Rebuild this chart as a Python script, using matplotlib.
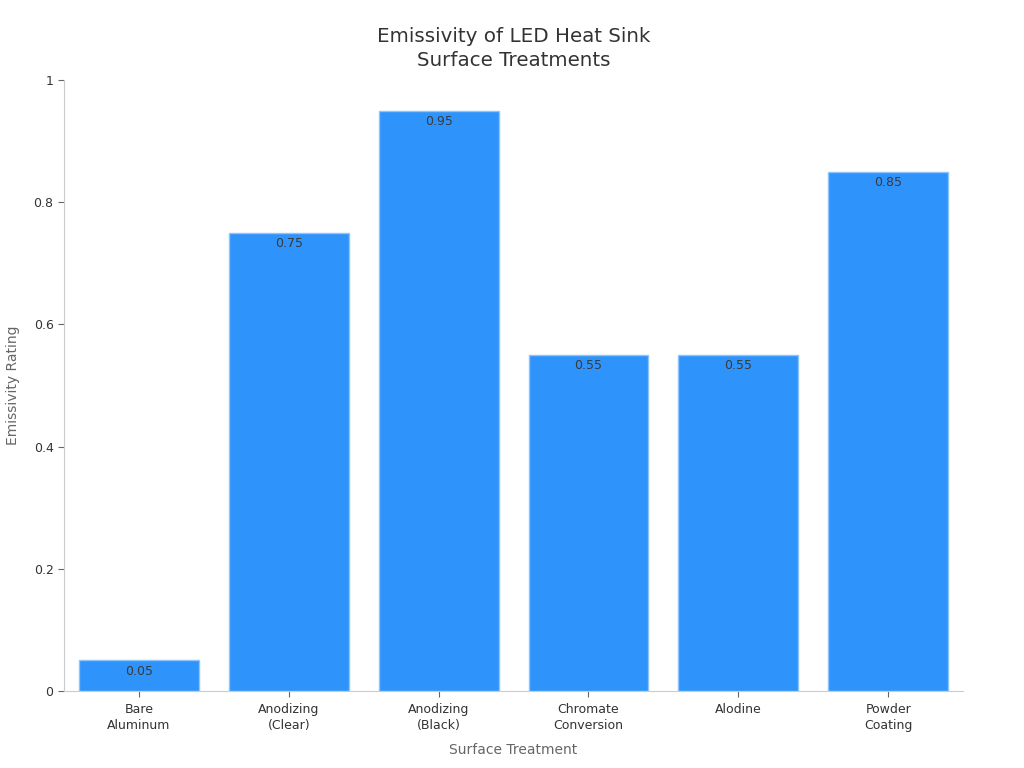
import matplotlib.pyplot as plt

# data
treatments = ['Bare\nAluminum', 'Anodizing\n(Clear)', 'Anodizing\n(Black)',
              'Chromate\nConversion', 'Alodine', 'Powder\nCoating']
emissivity = [0.05, 0.75, 0.95, 0.55, 0.55, 0.85]
yticks = [0, 0.2, 0.4, 0.6, 0.8, 1]
ytick_labels = ['0', '0.2', '0.4', '0.6', '0.8', '1']

plt.rcParams['font.family'] = ['DejaVu Sans']

fig = plt.figure(figsize=(10.24, 7.68), dpi=100)
ax = fig.add_axes([0.0625, 0.1003, 0.878, 0.7955])

x = range(len(treatments))
bars = ax.bar(x, emissivity, width=0.8, color='#2E93FA', edgecolor='#8cc4fb', linewidth=1)

for xi, v in zip(x, emissivity):
    ax.text(xi, v - 0.007, f'{v:g}', ha='center', va='top', fontsize=9, color='#3a3a3a')

ax.set_xlim(-0.5, 5.5)
ax.set_ylim(0, 1)
ax.set_xticks(list(x))
ax.set_xticklabels(treatments, fontsize=9, color='#333333', linespacing=1.3)
ax.set_yticks(yticks)
ax.set_yticklabels(ytick_labels, fontsize=9, color='#333333')

for s in ['top', 'right']:
    ax.spines[s].set_visible(False)
ax.spines['left'].set_color('#cccccc')
ax.spines['bottom'].set_color('#cccccc')
ax.tick_params(axis='both', colors='#666666', length=4, labelcolor='#333333')
ax.tick_params(axis='x', pad=5)

ax.set_xlabel('Surface Treatment', fontsize=10, color='#666666', labelpad=7.5)
ax.set_ylabel('Emissivity Rating', fontsize=10, color='#666666', labelpad=10)
ax.set_title('Emissivity of LED Heat Sink\nSurface Treatments', fontsize=14.3,
             color='#333333', pad=10, linespacing=1.35)

fig.savefig('out.png', dpi=100)
